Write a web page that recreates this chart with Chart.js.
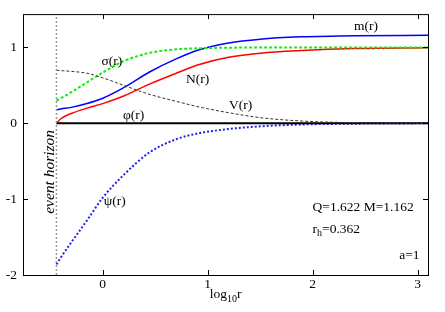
<!DOCTYPE html>
<html>
<head>
<meta charset="utf-8">
<script src="https://cdn.jsdelivr.net/npm/chart.js@4.4.1/dist/chart.umd.min.js"></script>
<style>
  html, body { margin: 0; padding: 0; background: #fff; }
  #wrap { width: 445px; height: 312px; }
</style>
</head>
<body>
<div id="wrap"><canvas id="profile"></canvas></div>
<script>
// log10 r sample points
const logR = [-0.441, -0.4, -0.3, -0.15, 0, 0.2, 0.45, 0.7, 0.92, 1.2, 1.5, 1.9, 2.4, 3.1];
const mVals = [0.18, 0.19, 0.21, 0.26, 0.33, 0.47, 0.68, 0.85, 0.97, 1.06, 1.11, 1.14, 1.155, 1.16];
const nVals = [0.0, 0.06, 0.13, 0.2, 0.26, 0.36, 0.52, 0.66, 0.775, 0.87, 0.925, 0.96, 0.985, 0.995];
const sigmaVals = [0.30, 0.33, 0.41, 0.54, 0.67, 0.82, 0.93, 0.975, 0.99, 0.997, 1.0, 1.0, 1.0, 1.0];
const vVals = [0.70, 0.695, 0.685, 0.66, 0.60, 0.50, 0.38, 0.29, 0.215, 0.14, 0.075, 0.03, 0.008, 0.0];
const phiVals = [0, 0, 0, 0, 0, 0, 0, 0, 0, 0, 0, 0, 0, 0];
const psiVals = [-1.86, -1.77, -1.57, -1.28, -0.98, -0.68, -0.38, -0.21, -0.13, -0.075, -0.04, -0.015, -0.005, 0.0];

const horizon = Math.log10(0.362);
const xTicks = [0, 1, 2, 3];
const yTicks = [-2, -1, 0, 1];

const pts = (vals) => logR.map((x, i) => ({x: x, y: vals[i]}));
const serif = '"Liberation Serif", "DejaVu Serif", serif';

function line(label, vals, color, width, dash) {
  return {
    label: label,
    data: pts(vals),
    borderColor: color,
    borderWidth: width,
    borderDash: dash,
    pointRadius: 0,
    fill: false,
    cubicInterpolationMode: 'monotone'
  };
}

// text drawn inside the frame (data coords)
const notes = [
  {t: 'σ(r)', x: 0.086, y: 0.82},
  {t: 'm(r)', x: 2.51, y: 1.275},
  {t: 'N(r)', x: 0.905, y: 0.577},
  {t: 'V(r)', x: 1.314, y: 0.23},
  {t: 'φ(r)', x: 0.295, y: 0.11},
  {t: 'ψ(r)', x: 0.114, y: -1.03}
];

const decor = {
  id: 'decor',
  afterDatasetsDraw(chart) {
    const {ctx, chartArea: a} = chart;
    const xs = chart.scales.x, ys = chart.scales.y;
    ctx.save();
    ctx.strokeStyle = '#000';
    ctx.lineWidth = 1;
    ctx.strokeRect(a.left + 0.5, a.top + 0.5, a.right - a.left, a.bottom - a.top);

    // inward ticks, mirrored
    ctx.beginPath();
    xTicks.forEach(v => {
      const px = Math.round(xs.getPixelForValue(v)) + 0.5;
      ctx.moveTo(px, a.bottom); ctx.lineTo(px, a.bottom - 5);
      ctx.moveTo(px, a.top); ctx.lineTo(px, a.top + 5);
    });
    yTicks.forEach(v => {
      const py = Math.round(ys.getPixelForValue(v)) + 0.5;
      ctx.moveTo(a.left, py); ctx.lineTo(a.left + 5, py);
      ctx.moveTo(a.right, py); ctx.lineTo(a.right - 5, py);
    });
    ctx.stroke();

    ctx.fillStyle = '#000';
    ctx.font = '13.5px ' + serif;
    ctx.textAlign = 'center';
    ctx.textBaseline = 'middle';
    notes.forEach(n => ctx.fillText(n.t, xs.getPixelForValue(n.x), ys.getPixelForValue(n.y)));

    // parameters
    ctx.textAlign = 'left';
    const lx = xs.getPixelForValue(2.0);
    ctx.fillText('Q=1.622 M=1.162', lx, ys.getPixelForValue(-1.115));
    const ry = ys.getPixelForValue(-1.40);
    ctx.fillText('r', lx, ry);
    let w = ctx.measureText('r').width;
    ctx.font = '10px ' + serif;
    ctx.fillText('h', lx + w, ry + 4);
    w += ctx.measureText('h').width;
    ctx.font = '13.5px ' + serif;
    ctx.fillText('=0.362', lx + w, ry);
    ctx.textAlign = 'right';
    ctx.fillText('a=1', xs.getPixelForValue(3.02), ys.getPixelForValue(-1.74));

    // event horizon, rotated
    ctx.save();
    ctx.translate(xs.getPixelForValue(horizon) - 7, ys.getPixelForValue(-0.64));
    ctx.rotate(-Math.PI / 2);
    ctx.textAlign = 'center';
    ctx.font = 'italic 15.5px ' + serif;
    ctx.fillText('event horizon', 0, 0);
    ctx.restore();

    // x axis title log10 r
    const cx = (a.left + a.right) / 2;
    const by = 298;
    ctx.textBaseline = 'alphabetic';
    ctx.textAlign = 'left';
    ctx.font = '13.5px ' + serif;
    const w1 = ctx.measureText('log').width;
    const w3 = ctx.measureText('r').width;
    ctx.font = '10px ' + serif;
    const w2 = ctx.measureText('10').width;
    let sx = cx - (w1 + w2 + w3) / 2;
    ctx.font = '13.5px ' + serif;
    ctx.fillText('log', sx, by);
    ctx.font = '10px ' + serif;
    ctx.fillText('10', sx + w1, by + 4);
    ctx.font = '13.5px ' + serif;
    ctx.fillText('r', sx + w1 + w2, by);
    ctx.restore();
  }
};

const chart = new Chart(document.getElementById('profile'), {
  type: 'line',
  data: {
    datasets: [
      {
        label: 'event horizon',
        data: [{x: horizon, y: -2}, {x: horizon, y: 1.44}],
        borderColor: '#999',
        borderWidth: 1.5,
        borderDash: [2, 2],
        pointRadius: 0
      },
      line('V(r)', vVals, '#333', 1, [3, 2]),
      line('φ(r)', phiVals, '#000', 2, []),
      line('ψ(r)', psiVals, '#2222ee', 2, [2, 2]),
      line('σ(r)', sigmaVals, '#11ee11', 2, [3, 2]),
      line('N(r)', nVals, '#ff0000', 1.5, []),
      line('m(r)', mVals, '#0000ff', 1.5, [])
    ]
  },
  options: {
    responsive: true,
    maintainAspectRatio: false,
    animation: false,
    layout: { padding: { left: 0, right: 17, top: 10, bottom: 0 } },
    plugins: {
      legend: { display: false },
      tooltip: { enabled: false }
    },
    scales: {
      x: {
        type: 'linear',
        min: -0.76,
        max: 3.1,
        afterBuildTicks: (s) => { s.ticks = xTicks.map(v => ({value: v})); },
        afterFit: (s) => { s.height = 37; },
        grid: { display: false, drawTicks: false },
        border: { display: false },
        ticks: { color: '#000', padding: 1, font: { family: serif, size: 13.5 } }
      },
      y: {
        min: -2,
        max: 1.44,
        afterBuildTicks: (s) => { s.ticks = yTicks.map(v => ({value: v})); },
        afterFit: (s) => { s.width = 23; },
        grid: { display: false, drawTicks: false },
        border: { display: false },
        ticks: { color: '#000', padding: 6, font: { family: serif, size: 13.5 } }
      }
    }
  },
  plugins: [decor]
});
</script>
</body>
</html>
